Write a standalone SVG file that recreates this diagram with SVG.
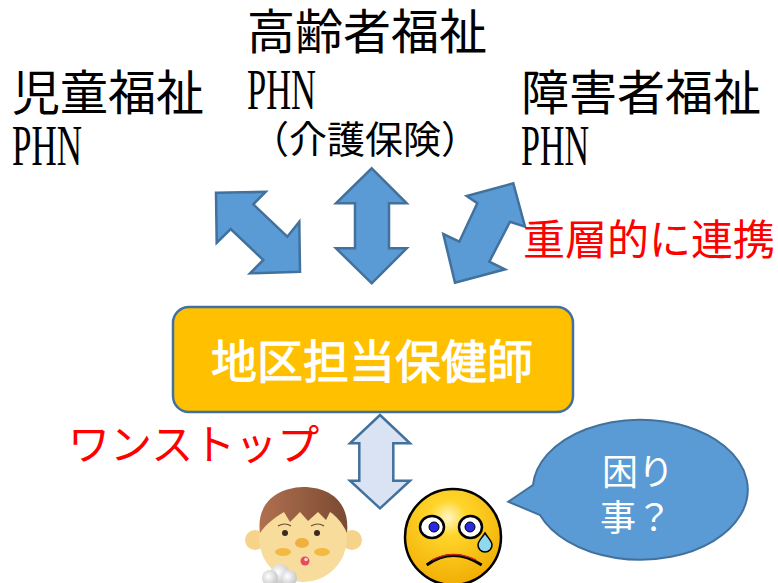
<svg xmlns="http://www.w3.org/2000/svg" width="778" height="583" viewBox="0 0 778 583">
  <defs>
    <style>
      .jp { font-family: "Noto Sans CJK JP", "Noto Sans", sans-serif; }
      .label { font-size: 48px; fill: #000; }
      .latin { font-family: "Liberation Serif", "DejaVu Serif", serif; font-size: 56px; fill: #000; }
      .red { font-size: 42px; fill: #ff0000; }
      .arrow { fill: #5b9bd5; stroke: #41719c; stroke-width: 2.5; stroke-linejoin: miter; }
      .arrow-light { fill: #dae3f3; stroke: #41719c; stroke-width: 2.5; }
    </style>
    <radialGradient id="smileyFill" cx="0.45" cy="0.3" r="0.75">
      <stop offset="0" stop-color="#fff6c8"/>
      <stop offset="0.25" stop-color="#ffd52a"/>
      <stop offset="1" stop-color="#f0aa00"/>
    </radialGradient>
    <linearGradient id="hairFill" x1="0" y1="0" x2="1" y2="0">
      <stop offset="0" stop-color="#b07050"/>
      <stop offset="1" stop-color="#7a4a32"/>
    </linearGradient>
    <radialGradient id="breathFill" cx="0.4" cy="0.4" r="0.6">
      <stop offset="0" stop-color="#ffffff"/>
      <stop offset="1" stop-color="#c8c8c8"/>
    </radialGradient>
  </defs>

  <rect width="778" height="583" fill="#ffffff"/>

  <!-- Welfare sections -->
  <g id="elderly-welfare">
    <text class="jp label" x="247" y="49">高齢者福祉</text>
    <text class="latin" x="247" y="109" textLength="69" lengthAdjust="spacingAndGlyphs">PHN</text>
    <text class="jp" x="251" y="153" font-size="38">（介護保険）</text>
  </g>
  <g id="child-welfare">
    <text class="jp label" x="12" y="110">児童福祉</text>
    <text class="latin" x="12" y="165" textLength="70" lengthAdjust="spacingAndGlyphs">PHN</text>
  </g>
  <g id="disability-welfare">
    <text class="jp label" x="521" y="110">障害者福祉</text>
    <text class="latin" x="521" y="165" textLength="68" lengthAdjust="spacingAndGlyphs">PHN</text>
  </g>

  <!-- Central node -->
  <g id="district-phn">
    <rect x="173" y="307" width="400" height="105" rx="16" ry="16" fill="#ffc000" stroke="#41719c" stroke-width="2.5"/>
    <text class="jp" x="372" y="378" font-size="46" fill="#ffffff" stroke="#ffffff" stroke-width="1" text-anchor="middle">地区担当保健師</text>
  </g>

  <!-- Connectors -->
  <g id="connectors">
    <polygon class="arrow" points="216,192.7 265.7,191.7 253.3,204.3 287.3,236.7 299.3,221.7 300,271.7 250,273.3 263.3,260 230.7,229 216.7,242.7"/>
    <polygon class="arrow" points="371.7,168.3 406.7,203.3 389,203.3 389,248.3 406.7,248.3 371.7,283.3 336,248.3 355,248.3 355,203.3 336,203.3"/>
    <polygon class="arrow" points="513.3,183.3 525,226.7 510,221.7 489.3,261.7 505,269.3 455,282.7 443.3,234 459.3,241.7 477.3,203.3 466.7,196"/>
    <polygon class="arrow-light" points="380,415 410,443.3 393.3,443.3 393.3,480.7 410,480.7 380,508.3 350,480.7 359.3,480.7 359.3,443.3 350,443.3"/>
  </g>

  <!-- Annotations -->
  <g id="multi-layer-label">
    <text class="jp red" x="523" y="255">重層的に連携</text>
  </g>
  <g id="one-stop-label">
    <text class="jp red" x="68" y="460">ワンストップ</text>
  </g>

  <!-- Speech bubble -->
  <g id="trouble-bubble">
    <path d="M533,485 A107.5,70 0 1 1 540,515 L508.3,501.7 Z" fill="#5b9bd5" stroke="#41719c" stroke-width="2"/>
    <text class="jp" x="638" y="485" font-size="36" fill="#ffffff" text-anchor="middle">困り</text>
    <text class="jp" x="636" y="531" font-size="36" fill="#ffffff" text-anchor="middle">事？</text>
  </g>

  <!-- Boy with a cough -->
  <g id="boy">
    <circle cx="255" cy="540" r="10" fill="#f6d28a"/>
    <circle cx="352" cy="540" r="10" fill="#f6d28a"/>
    <ellipse cx="303" cy="538" rx="44" ry="44" fill="#f8dc9c"/>
    <path d="M260,533 C256,505 275,488 303,487 C333,487 350,505 347,533 C342,522 336,516 330,512 L326,520 L318,512 L308,521 L300,512 L290,522 L284,512 C274,518 266,524 260,533 Z" fill="url(#hairFill)"/>
    <path d="M278,526 Q285,522 291,526" fill="none" stroke="#6b4a30" stroke-width="1.2"/>
    <path d="M311,526 Q318,522 324,526" fill="none" stroke="#6b4a30" stroke-width="1.2"/>
    <circle cx="285" cy="533" r="3" fill="#3a2a20"/>
    <circle cx="317" cy="533" r="3" fill="#3a2a20"/>
    <ellipse cx="302" cy="543" rx="7" ry="5" fill="#f0b040"/>
    <ellipse cx="283" cy="552" rx="8" ry="4" fill="#f5b840"/>
    <ellipse cx="322" cy="552" rx="8" ry="4" fill="#f5b840"/>
    <circle cx="305" cy="561" r="4.5" fill="#e84a5a"/>
    <circle cx="306" cy="559.5" r="1.8" fill="#ffd0d8"/>
    <circle cx="280" cy="574" r="10" fill="url(#breathFill)"/>
    <circle cx="270" cy="578" r="8" fill="url(#breathFill)"/>
    <circle cx="289" cy="578" r="8" fill="url(#breathFill)"/>
  </g>

  <!-- Crying face -->
  <g id="crying-face">
    <circle cx="453" cy="537" r="48" fill="url(#smileyFill)" stroke="#000" stroke-width="2.5"/>
    <ellipse cx="432" cy="527" rx="12" ry="11" fill="#ffffff" stroke="#000" stroke-width="2.5"/>
    <ellipse cx="470.5" cy="527" rx="11.5" ry="11" fill="#ffffff" stroke="#000" stroke-width="2.5"/>
    <circle cx="434" cy="527" r="5" fill="#2a2ae0" stroke="#000" stroke-width="1"/>
    <circle cx="470" cy="527" r="5" fill="#2a2ae0" stroke="#000" stroke-width="1"/>
    <path d="M485,533 C488,538 492,541 492,545 A7,7 0 0 1 478,545 C478,541 482,538 485,533 Z" fill="#8fd8ee" stroke="#000" stroke-width="1.5"/>
    <path d="M426.7,565 Q453,546 481.7,565" fill="none" stroke="#000" stroke-width="3"/>
    <path d="M432,560 Q453,549 476,560" fill="none" stroke="#d02020" stroke-width="1.5"/>
  </g>
</svg>
